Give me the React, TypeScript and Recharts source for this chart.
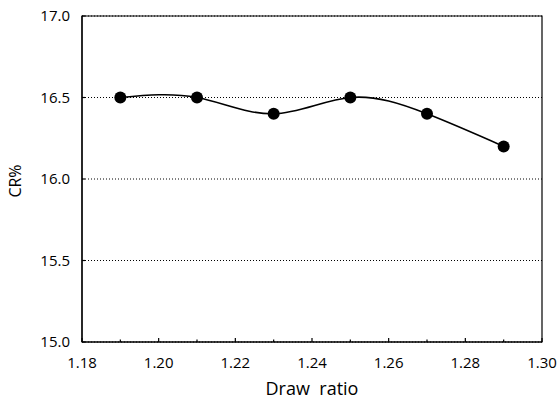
import React from "react";
import { LineChart, Line, XAxis, YAxis, CartesianGrid, ReferenceArea, Label } from "recharts";

// draw ratio vs CR%
const drawRatio = [1.19, 1.21, 1.23, 1.25, 1.27, 1.29];
const crPercent = [16.5, 16.5, 16.4, 16.5, 16.4, 16.2];

const xTicks = [1.18, 1.19, 1.2, 1.21, 1.22, 1.23, 1.24, 1.25, 1.26, 1.27, 1.28, 1.29, 1.3];
const yTicks = [15.0, 15.5, 16.0, 16.5, 17.0];

const data = drawRatio.map((x, i) => ({ x, cr: crPercent[i] }));

const FONT = "'Open Sans', sans-serif";
const X_GAP = 15.5;
const Y_GAP = 12;

function XTick(props: any) {
    const { x, y, payload } = props;
    const v = payload.value as number;
    const major = Math.round(v * 100) % 2 === 0;
    const axisY = y - X_GAP;
    return <g>
        <line x1={x} x2={x} y1={axisY} y2={axisY - (major ? 4 : 2.5)} stroke="#000" strokeWidth={1.2} />
        {major && <text x={x} y={y} dy="0.71em" textAnchor="middle" fontSize={15} fontFamily={FONT} fill="#000">
            {v.toFixed(2)}
        </text>}
    </g>;
}

function YTick(props: any) {
    const { x, y, payload } = props;
    const v = payload.value as number;
    const axisX = x + Y_GAP;
    return <g>
        <line x1={axisX} x2={axisX + 3} y1={y} y2={y} stroke="#000" strokeWidth={1.2} />
        <text x={x} y={y} dy="0.355em" textAnchor="end" fontSize={15} fontFamily={FONT} fill="#000">
            {v.toFixed(1)}
        </text>
    </g>;
}

function XTitle(props: any) {
    const { viewBox } = props;
    return <text x={viewBox.x + viewBox.width / 2} y={viewBox.y + 53} textAnchor="middle"
        fontSize={18} fontFamily={FONT} fill="#000" style={{ whiteSpace: "pre" }}>
        {"Draw  ratio"}
    </text>;
}

function YTitle(props: any) {
    const { viewBox } = props;
    const cx = 14.5;
    const cy = viewBox.y + viewBox.height / 2 + 2;
    return <text x={cx} y={cy} transform={`rotate(-90 ${cx} ${cy})`} textAnchor="middle" dominantBaseline="central"
        fontSize={16} fontFamily={FONT} fill="#000">
        CR%
    </text>;
}

export default function App() {
    return <div style={{ position: "absolute", left: 0, top: 0, width: 560, height: 404, background: "#fff" }}>
        <LineChart width={560} height={404} data={data} margin={{ top: 16, right: 18, bottom: 22, left: 22 }}>
            <CartesianGrid horizontal vertical={false} stroke="#000" strokeDasharray="1 2" strokeWidth={1} />
            <ReferenceArea x1={1.18} x2={1.3} y1={15} y2={17} fill="none" stroke="#000" strokeWidth={1.2} ifOverflow="visible" />
            <XAxis dataKey="x" type="number" domain={[1.18, 1.3]} ticks={xTicks} interval={0}
                height={40} tickSize={0} tickMargin={X_GAP} tick={<XTick />} axisLine={{ stroke: "#000", strokeWidth: 1.2 }}>
                <Label content={<XTitle />} />
            </XAxis>
            <YAxis type="number" domain={[15, 17]} ticks={yTicks} interval={0} width={60}
                tickSize={0} tickMargin={Y_GAP} tick={<YTick />} axisLine={{ stroke: "#000", strokeWidth: 1.2 }}>
                <Label content={<YTitle />} />
            </YAxis>
            <Line dataKey="cr" type="natural" stroke="#000" strokeWidth={1.6} isAnimationActive={false}
                dot={{ r: 6, fill: "#000", stroke: "#000", strokeWidth: 0 }} activeDot={false} />
        </LineChart>
    </div>;
}
